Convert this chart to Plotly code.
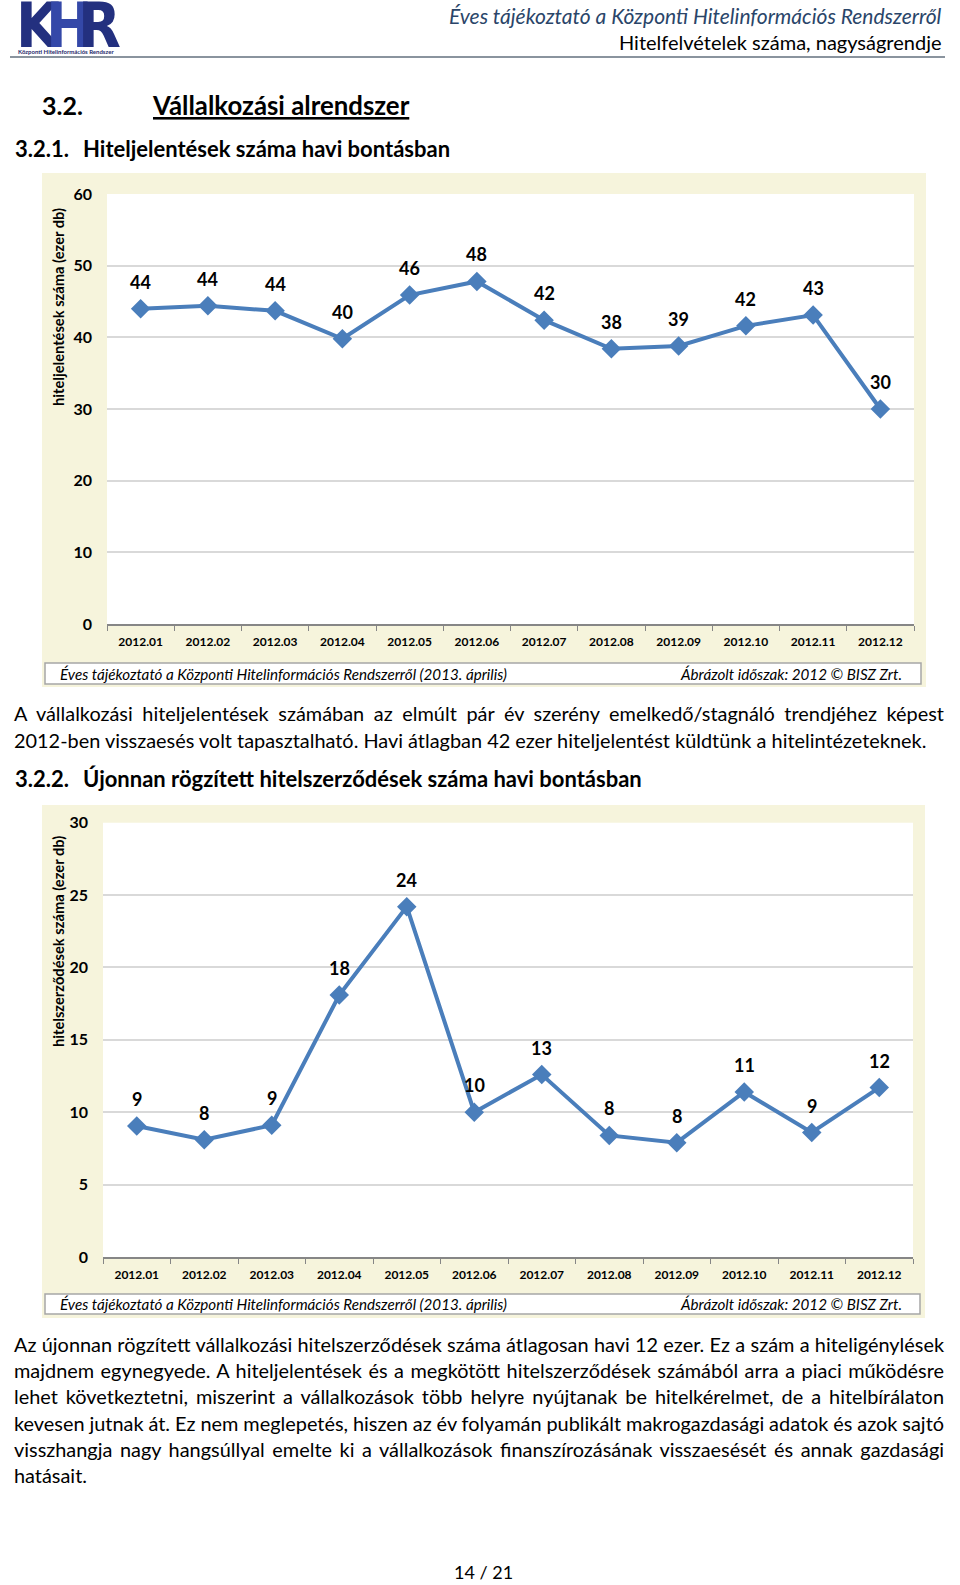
import json
import plotly.graph_objects as go

# ---------------- data ----------------
months = ["2012.01", "2012.02", "2012.03", "2012.04", "2012.05", "2012.06",
          "2012.07", "2012.08", "2012.09", "2012.10", "2012.11", "2012.12"]
reports = [44.0, 44.4, 43.7, 39.8, 45.9, 47.8, 42.4, 38.4, 38.8, 41.6, 43.1, 30.0]
contracts = [9.05, 8.1, 9.1, 18.1, 24.2, 10.0, 12.6, 8.4, 7.9, 11.4, 8.6, 11.7]
ticks1 = [0, 10, 20, 30, 40, 50, 60]
ticks2 = [0, 5, 10, 15, 20, 25, 30]

W, H = 960, 1585
FONT = "Lato, Carlito, Calibri, sans-serif"
LINE_COLOR = "#4A7EBB"
BEIGE = "#F6F4DC"


def X(px):
    return px / W


def Y(py):
    return 1 - py / H


fig = go.Figure()

fig.add_trace(go.Scatter(
    x=months, y=reports, mode="lines+markers", xaxis="x", yaxis="y",
    line=dict(color=LINE_COLOR, width=4),
    marker=dict(symbol="diamond", size=15, color=LINE_COLOR),
    showlegend=False, hoverinfo="skip"))
fig.add_trace(go.Scatter(
    x=months, y=contracts, mode="lines+markers", xaxis="x2", yaxis="y2",
    line=dict(color=LINE_COLOR, width=4),
    marker=dict(symbol="diamond", size=15, color=LINE_COLOR),
    showlegend=False, hoverinfo="skip"))

annotations = []
# data labels (x given as category index to avoid numeric parsing of "2012.01")
for i, v in enumerate(reports):
    annotations.append(dict(x=i, y=v, xref="x", yref="y", text=f"<b>{v:.0f}</b>",
                            showarrow=False, yshift=27,
                            font=dict(family=FONT, size=18, color="black")))
for i, v in enumerate(contracts):
    annotations.append(dict(x=i, y=v, xref="x2", yref="y2", text=f"<b>{v:.0f}</b>",
                            showarrow=False, yshift=27,
                            font=dict(family=FONT, size=18, color="black")))


def txt(x, y, text, size, xanchor="left", color="black", family=FONT, angle=0):
    annotations.append(dict(x=X(x), y=Y(y), xref="paper", yref="paper", text=text,
                            showarrow=False, xanchor=xanchor, yanchor="middle",
                            textangle=angle, align="left" if xanchor == "left" else
                            ("right" if xanchor == "right" else "center"),
                            font=dict(family=family, size=size, color=color)))


# header / logo
LOGO = "Liberation Sans Narrow, DejaVu Sans Condensed, Arial Narrow, sans-serif"
txt(14, 25, "<b>K</b>", 62, color="#23307F", family=LOGO)
txt(44, 25, "<b>H</b>", 62, color="#3448A8", family=LOGO)
txt(76, 25, "<b>R</b>", 62, color="#23307F", family=LOGO)
txt(16, 52, "<b>Központi Hitelinformációs Rendszer</b>", 6, color="#1F2A6B")
txt(944, 15, "<i>Éves tájékoztató a Központi Hitelinformációs Rendszerről</i>", 21,
    xanchor="right", color="#2A4569")
txt(944, 42, "Hitelfelvételek száma, nagyságrendje", 20, xanchor="right")

# headings
txt(40, 105, "<b>3.2.</b>", 25)
txt(150, 105, "<b><u>Vállalkozási alrendszer</u></b>", 25.8)
txt(13, 148, "<b>3.2.1.</b>", 22)
txt(81, 148, "<b>Hiteljelentések száma havi bontásban</b>", 22)
txt(13, 778, "<b>3.2.2.</b>", 22)
txt(81, 778, "<b>Újonnan rögzített hitelszerződések száma havi bontásban</b>", 22)

# y-axis titles
txt(58, 307, "<b>hiteljelentések száma (ezer db)</b>", 14.7, xanchor="center", angle=-90)
txt(58, 942, "<b>hitelszerződések száma (ezer db)</b>", 14.7, xanchor="center", angle=-90)

# captions
CAP_L = "<i>Éves tájékoztató a Központi Hitelinformációs Rendszerről (2013. április)</i>"
CAP_R = "<i>Ábrázolt időszak: 2012 © BISZ Zrt.</i>"
txt(58, 674, CAP_L, 15.2)
txt(904, 674, CAP_R, 15.2, xanchor="right")
txt(58, 1304, CAP_L, 15.2)
txt(904, 1304, CAP_R, 15.2, xanchor="right")

# paragraphs
para1 = [
    "A vállalkozási hiteljelentések számában az elmúlt pár év szerény emelkedő/stagnáló trendjéhez képest",
    "2012-ben visszaesés volt tapasztalható. Havi átlagban 42 ezer hiteljelentést küldtünk a hitelintézeteknek.",
]
para2 = [
    "Az újonnan rögzített vállalkozási hitelszerződések száma átlagosan havi 12 ezer. Ez a szám a hiteligénylések",
    "majdnem egynegyede. A hiteljelentések és a megkötött hitelszerződések számából arra a piaci működésre",
    "lehet következtetni, miszerint a vállalkozások több helyre nyújtanak be hitelkérelmet, de a hitelbírálaton",
    "kevesen jutnak át. Ez nem meglepetés, hiszen az év folyamán publikált makrogazdasági adatok és azok sajtó",
    "visszhangja nagy hangsúllyal emelte ki a vállalkozások finanszírozásának visszaesését és annak gazdasági",
    "hatásait.",
]
PSIZE = 19.9
for i, line in enumerate(para1):
    txt(12, 713 + i * 26.5, line, PSIZE)
for i, line in enumerate(para2):
    txt(12, 1344 + i * 26.2, line, PSIZE)
justified = para1[:-1] + para2[:-1]

txt(483, 1572, "14 / 21", 18, xanchor="center")

shapes = [
    # header rule
    dict(type="line", xref="paper", yref="paper", x0=X(10), x1=X(945), y0=Y(57), y1=Y(57),
         line=dict(color="#8A949E", width=2)),
    # chart 1 panel
    dict(type="rect", xref="paper", yref="paper", x0=X(42), x1=X(926), y0=Y(687), y1=Y(173),
         fillcolor=BEIGE, line=dict(width=0), layer="below"),
    dict(type="rect", xref="paper", yref="paper", x0=X(107), x1=X(914), y0=Y(624), y1=Y(194),
         fillcolor="white", line=dict(width=0), layer="below"),
    dict(type="rect", xref="paper", yref="paper", x0=X(45), x1=X(921), y0=Y(684), y1=Y(663),
         fillcolor="white", line=dict(color="#A6A6A6", width=1.5), layer="below"),
    # chart 2 panel
    dict(type="rect", xref="paper", yref="paper", x0=X(42), x1=X(925), y0=Y(1318), y1=Y(805),
         fillcolor=BEIGE, line=dict(width=0), layer="below"),
    dict(type="rect", xref="paper", yref="paper", x0=X(103), x1=X(913), y0=Y(1257), y1=Y(822.7),
         fillcolor="white", line=dict(width=0), layer="below"),
    dict(type="rect", xref="paper", yref="paper", x0=X(45), x1=X(920), y0=Y(1314), y1=Y(1294),
         fillcolor="white", line=dict(color="#A6A6A6", width=1.5), layer="below"),
]

xcommon = dict(type="category", categoryorder="array", categoryarray=months,
               range=[-0.5, 11.5], showline=True, linecolor="#868686", linewidth=1.5,
               ticks="outside", tickson="boundaries", ticklen=5, tickcolor="#868686",
               tickwidth=1, showgrid=False, zeroline=False, ticklabelstandoff=6,
               tickfont=dict(family=FONT, size=12, color="black", weight="bold"))
ycommon = dict(showgrid=True, gridcolor="#D9D9D9", gridwidth=1.5, zeroline=False,
               showline=False, ticks="", ticklabelstandoff=14,
               tickfont=dict(family=FONT, size=16, color="black", weight="bold"))

fig.update_layout(
    width=W, height=H, margin=dict(l=0, r=0, t=0, b=0, autoexpand=False),
    paper_bgcolor="white", plot_bgcolor="rgba(0,0,0,0)",
    xaxis=dict(domain=[X(107), X(914)], anchor="y", **xcommon),
    yaxis=dict(domain=[Y(624), Y(194)], anchor="x", range=[0, 60], tickvals=ticks1, **ycommon),
    xaxis2=dict(domain=[X(103), X(913)], anchor="y2", **xcommon),
    yaxis2=dict(domain=[Y(1257), Y(822.7)], anchor="x2", range=[0, 30], tickvals=ticks2, **ycommon),
    annotations=annotations, shapes=shapes,
)

post = """
document.body.style.margin = '0';
document.documentElement.style.overflow = 'hidden';
var gd = document.getElementById('{plot_id}');
var JL = %s;
function justify() {
  gd.querySelectorAll('text.annotation-text').forEach(function (t) {
    var s = t.textContent;
    if (JL.indexOf(s) >= 0) {
      t.style.wordSpacing = '0px';
      var w = t.getComputedTextLength();
      var n = (s.match(/ /g) || []).length;
      if (n > 0) { t.style.wordSpacing = ((930 - w) / n) + 'px'; }
    }
  });
}
justify();
if (gd.on) { gd.on('plotly_afterplot', justify); }
""" % json.dumps(justified, ensure_ascii=False)

fig.write_html("out.html", post_script=post, config={"displayModeBar": False})
